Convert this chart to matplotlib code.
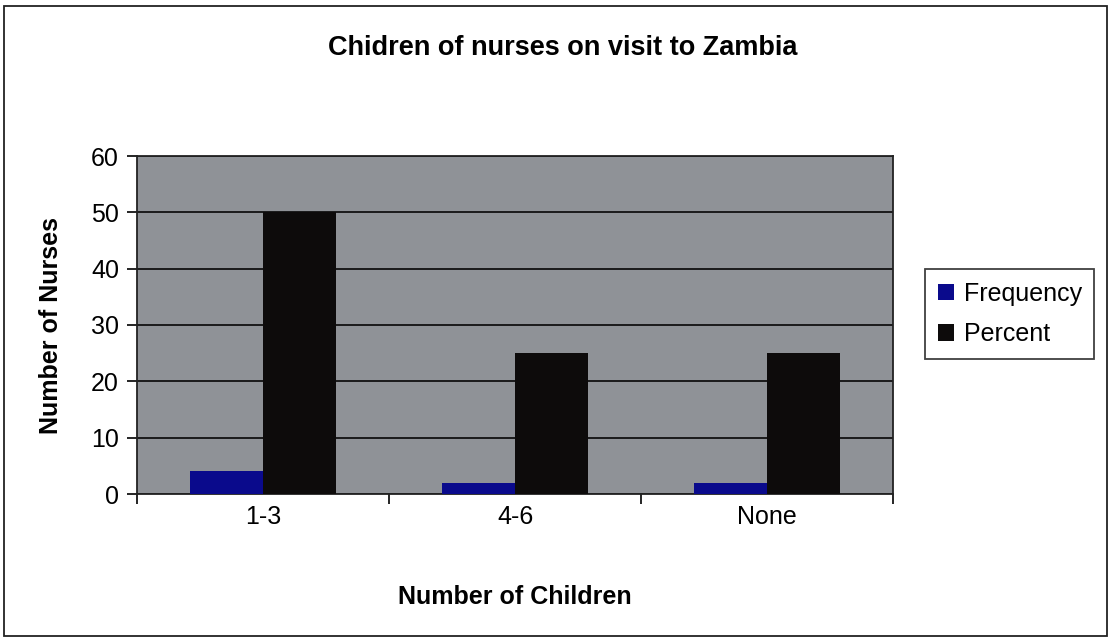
import matplotlib.pyplot as plt
import numpy as np
from matplotlib.patches import Rectangle

categories = ["1-3", "4-6", "None"]
frequency = [4, 2, 2]
percent = [50, 25, 25]

plt.rcParams['font.family'] = ['Liberation Sans', 'DejaVu Sans']

fig = plt.figure(figsize=(11.11, 6.41), dpi=100)
ax = fig.add_axes([137/1111, 1 - 494/641, (893 - 137)/1111, (494 - 156)/641])

x = np.arange(len(categories))
w = 0.29
ax.bar(x - w/2, frequency, w, color='#0a0a8c', label='Frequency', zorder=3)
ax.bar(x + w/2, percent, w, color='#0d0b0b', label='Percent', zorder=3)

ax.set_xlim(-0.5, 2.5)
ax.set_ylim(0, 60)
ax.set_yticks(range(0, 61, 10))
ax.set_xticks([-0.5, 0.5, 1.5, 2.5], minor=False)
ax.set_xticklabels([])
ax.set_xticks(x, minor=True)
ax.set_xticklabels(categories, minor=True, fontsize=18)
ax.tick_params(axis='x', which='minor', length=0, pad=8)
ax.tick_params(axis='x', which='major', length=7, width=1.2, direction='out')
ax.tick_params(axis='y', labelsize=18, length=7, width=1.2, pad=6)

ax.set_facecolor('#8f9297')
ax.grid(axis='y', color='#111111', linewidth=1.3, zorder=1)
for s in ax.spines.values():
    s.set_linewidth(1.3)
    s.set_color('#222222')

ax.set_xlabel("Number of Children", fontsize=18, fontweight='bold', labelpad=40)
ax.set_ylabel("Number of Nurses", fontsize=18, fontweight='bold', labelpad=20)

fig.text(563/1111, 1 - 48/641, "Chidren of nurses on visit to Zambia",
         fontsize=19.5, fontweight='bold', ha='center', va='center')

leg = fig.legend(loc='center left', bbox_to_anchor=(925/1111, 1 - 314/641),
                 fontsize=18, frameon=True, fancybox=False, edgecolor='#111111',
                 handlelength=0.65, handleheight=0.65, handletextpad=0.4,
                 borderpad=0.5, labelspacing=0.65, borderaxespad=0)
leg.get_frame().set_linewidth(1.3)

fig.patches.append(Rectangle((4/1111, 5/641), 1103/1111, 630/641,
                             transform=fig.transFigure, fill=False,
                             edgecolor='#222222', linewidth=1.3))

fig.savefig("out.png", dpi=100)
